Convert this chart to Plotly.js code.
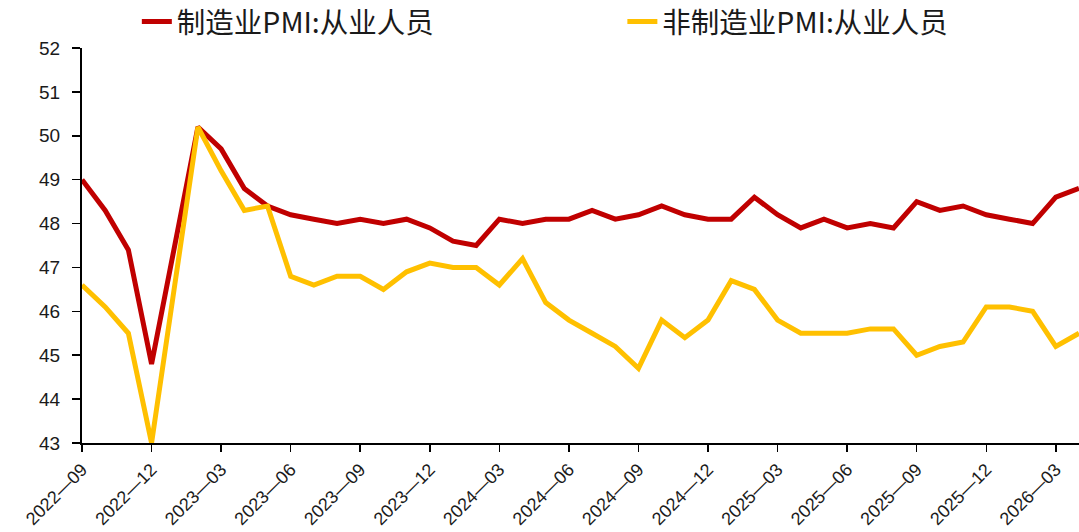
<!DOCTYPE html>
<html>
<head>
<meta charset="utf-8">
<script src="https://cdn.plot.ly/plotly-3.0.1.min.js"></script>
<style>
html,body{margin:0;padding:0;background:#fff;}
#chart{width:1079px;height:532px;}
</style>
</head>
<body>
<div id="chart"></div>
<script>
var months = ["2022-09","2022-10","2022-11","2022-12","2023-01","2023-02","2023-03","2023-04","2023-05","2023-06","2023-07","2023-08",
"2023-09","2023-10","2023-11","2023-12","2024-01","2024-02","2024-03","2024-04","2024-05","2024-06","2024-07","2024-08",
"2024-09","2024-10","2024-11","2024-12","2025-01","2025-02","2025-03","2025-04","2025-05","2025-06","2025-07","2025-08",
"2025-09","2025-10","2025-11","2025-12","2026-01","2026-02","2026-03","2026-04"];

var manufacturing = [49.0,48.3,47.4,44.8,47.5,50.2,49.7,48.8,48.4,48.2,48.1,48.0,
48.1,48.0,48.1,47.9,47.6,47.5,48.1,48.0,48.1,48.1,48.3,48.1,
48.2,48.4,48.2,48.1,48.1,48.6,48.2,47.9,48.1,47.9,48.0,47.9,
48.5,48.3,48.4,48.2,48.1,48.0,48.6,48.8];

var nonManufacturing = [46.6,46.1,45.5,43.0,46.6,50.2,49.2,48.3,48.4,46.8,46.6,46.8,
46.8,46.5,46.9,47.1,47.0,47.0,46.6,47.2,46.2,45.8,45.5,45.2,
44.7,45.8,45.4,45.8,46.7,46.5,45.8,45.5,45.5,45.5,45.6,45.6,
45.0,45.2,45.3,46.1,46.1,46.0,45.2,45.5];

var seriesNames = ["制造业PMI:从业人员","非制造业PMI:从业人员"];

var tickMonths = months.filter(function(m, i){ return i % 3 === 0; });
var tickLabels = tickMonths.map(function(m){ return m.replace("-", "\u2014"); });

var traces = [
  {x: months, y: manufacturing, name: seriesNames[0], type: "scatter", mode: "lines",
   line: {color: "#C00000", width: 5}, legend: "legend"},
  {x: months, y: nonManufacturing, name: seriesNames[1], type: "scatter", mode: "lines",
   line: {color: "#FFC000", width: 5}, legend: "legend2"}
];

var legendFont = {family: "Noto Sans CJK SC, sans-serif", size: 28.5, color: "#1a1a1a"};

var layout = {
  width: 1079, height: 532,
  margin: {l: 82, r: 0, t: 48, b: 89, pad: 0, autoexpand: false},
  paper_bgcolor: "#ffffff", plot_bgcolor: "#ffffff",
  showlegend: true,
  legend: {
    orientation: "h", x: 0.055, xanchor: "left", y: 1.066, yanchor: "middle",
    font: legendFont, bgcolor: "rgba(0,0,0,0)"
  },
  legend2: {
    orientation: "h", x: 0.542, xanchor: "left", y: 1.066, yanchor: "middle",
    font: legendFont, bgcolor: "rgba(0,0,0,0)"
  },
  xaxis: {
    type: "category", categoryorder: "array", categoryarray: months,
    range: [0, months.length - 1],
    tickmode: "array", tickvals: tickMonths, ticktext: tickLabels,
    tickangle: -45, ticks: "outside", ticklen: 7, tickwidth: 1.5, tickcolor: "#000",
    showline: true, linecolor: "#000", linewidth: 2, showgrid: false, zeroline: false,
    tickfont: {family: "Liberation Sans, Arial, sans-serif", size: 18, color: "#1a1a1a"}
  },
  yaxis: {
    range: [43, 52], dtick: 1, tick0: 43,
    ticks: "outside", ticklen: 8, tickwidth: 1.5, tickcolor: "#000",
    ticklabelstandoff: 8,
    showline: true, linecolor: "#000", linewidth: 2, showgrid: false, zeroline: false,
    tickfont: {family: "Liberation Sans, Arial, sans-serif", size: 19, color: "#1a1a1a"}
  }
};

Plotly.newPlot("chart", traces, layout, {displayModeBar: false, staticPlot: true});
</script>
</body>
</html>
